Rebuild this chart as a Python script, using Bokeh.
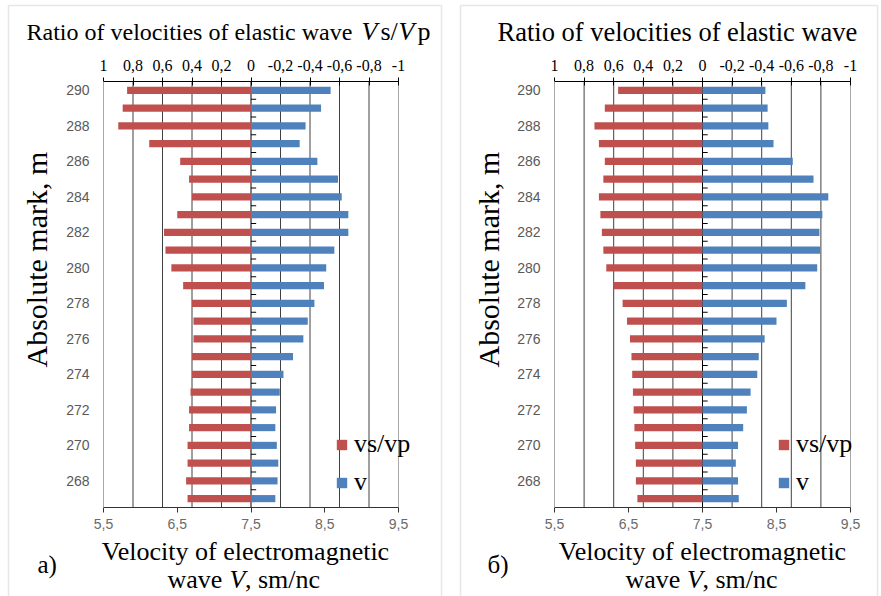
import math
from bokeh.plotting import figure
from bokeh.models import (Range1d, LinearAxis, FixedTicker, CustomJSTickFormatter,
                          Label, Legend, LegendItem, BoxAnnotation)
from bokeh.layouts import row
from bokeh.embed import file_html
from bokeh.resources import INLINE

# ---------------- data ----------------
depth = list(range(290, 266, -1))          # absolute mark, m (290 ... 267)
depth_ticks = list(range(268, 291, 2))
ratio_ticks = [1, 0.8, 0.6, 0.4, 0.2, 0, -0.2, -0.4, -0.6, -0.8, -1]
vel_ticks = [5.5, 6.5, 7.5, 8.5, 9.5]
series_names = ["vs/vp", "v"]

# panel a)
ratio_a = [0.84, 0.87, 0.90, 0.69, 0.48, 0.42, 0.40, 0.50, 0.59, 0.58, 0.54, 0.46,
           0.40, 0.39, 0.39, 0.40, 0.40, 0.41, 0.42, 0.42, 0.43, 0.43, 0.44, 0.43]
vel_a = [8.58, 8.45, 8.24, 8.16, 8.40, 8.68, 8.73, 8.82, 8.82, 8.63, 8.52, 8.49,
         8.36, 8.27, 8.21, 8.07, 7.94, 7.89, 7.84, 7.83, 7.85, 7.87, 7.86, 7.83]
# panel б)
ratio_b = [0.57, 0.66, 0.73, 0.70, 0.66, 0.67, 0.70, 0.69, 0.68, 0.67, 0.65, 0.60,
           0.54, 0.51, 0.49, 0.48, 0.475, 0.47, 0.465, 0.46, 0.455, 0.45, 0.45, 0.44]
vel_b = [8.35, 8.38, 8.39, 8.46, 8.72, 9.00, 9.20, 9.12, 9.08, 9.09, 9.05, 8.89,
         8.64, 8.50, 8.34, 8.26, 8.24, 8.15, 8.10, 8.05, 7.98, 7.95, 7.98, 7.99]

RED = "#C0504D"
BLUE = "#4F81BD"
SERIF = "Liberation Serif"
SANS = "Liberation Sans"
H = 596
PLOT_TOP, PLOT_BOTTOM = 81, 507      # pixel rows of the plotting band
FIX = 9                              # renderer draws 'alphabetic' text ~9px lower than asked

fmt_code = "return (Math.round(tick*10)/10).toString().replace('.', ',');"


def lab(p, text, x, y, size, style="normal", align="left", angle=0.0):
    if angle:
        x = x - FIX
    else:
        y = y - FIX
    p.add_layout(Label(x=x, y=y, x_units="canvas", y_units="canvas", text=text,
                       text_font=SERIF, text_font_size=size, text_font_style=style,
                       text_align=align, text_baseline="alphabetic", angle=angle,
                       text_color="black"))


def stretch(v0, v1, p0, p1, total):
    """range whose values v0/v1 fall on pixels p0/p1 of a canvas 'total' pixels wide"""
    k = (v1 - v0) / (p1 - p0)
    return Range1d(start=v0 - p0 * k, end=v0 + (total - p0) * k)


def make_panel(width, fx0, fx1, ratio, vel, box_lr, legend_xy):
    lo, hi = min(depth) - 0.5, max(depth) + 0.5
    xr = stretch(ratio_ticks[0], ratio_ticks[-1], fx0, fx1, width)
    vr = stretch(vel_ticks[0], vel_ticks[-1], fx0, fx1, width)
    yr = stretch(lo, hi, H - PLOT_BOTTOM, H - PLOT_TOP, H)
    p = figure(width=width, height=H, output_backend="svg", toolbar_location=None,
               x_range=xr, y_range=yr, title=None,
               x_axis_location=None, y_axis_location=None, min_border=0)
    p.extra_x_ranges = {"vel": vr}
    p.outline_line_color = None
    p.grid.visible = False
    p.background_fill_color = "white"
    p.border_fill_color = "white"

    # vertical grid lines of the band (edges grey, centre black, others dark)
    gcol = ["#a8a8a8" if abs(t) == 1 else ("black" if t == 0 else "#404040") for t in ratio_ticks]
    p.segment(x0=ratio_ticks, x1=ratio_ticks, y0=[lo] * len(ratio_ticks), y1=[hi] * len(ratio_ticks),
              line_color=gcol, line_width=1)

    # top axis: ratio
    top = LinearAxis(ticker=FixedTicker(ticks=ratio_ticks), formatter=CustomJSTickFormatter(code=fmt_code),
                     fixed_location=hi, bounds=(min(ratio_ticks), max(ratio_ticks)))
    top.major_label_text_font = SERIF
    top.major_label_text_font_size = "16px"
    top.major_label_text_color = "black"
    top.major_tick_in = 4
    top.major_tick_out = 4
    top.major_tick_line_color = "black"
    top.minor_tick_line_color = None
    top.axis_line_color = "black"
    top.major_label_standoff = 7
    p.add_layout(top, "above")

    # bottom axis: velocity
    bot = LinearAxis(x_range_name="vel", ticker=FixedTicker(ticks=vel_ticks),
                     formatter=CustomJSTickFormatter(code=fmt_code),
                     fixed_location=lo, bounds=(vel_ticks[0], vel_ticks[-1]))
    bot.major_label_text_font = SANS
    bot.major_label_text_font_size = "14px"
    bot.major_label_text_color = "#6a6a6a"
    bot.major_tick_in = 0
    bot.major_tick_out = 5
    bot.major_tick_line_color = "#333333"
    bot.minor_tick_line_color = None
    bot.axis_line_color = "#333333"
    bot.major_label_standoff = 6
    p.add_layout(bot, "below")

    # left axis: depth
    left = LinearAxis(ticker=FixedTicker(ticks=depth_ticks), fixed_location=ratio_ticks[0],
                      bounds=(lo, hi))
    left.major_label_text_font = SANS
    left.major_label_text_font_size = "14px"
    left.major_label_text_color = "#595959"
    left.major_tick_in = 0
    left.major_tick_out = 0
    left.minor_tick_line_color = None
    left.axis_line_color = "#a8a8a8"
    left.major_label_standoff = 14
    p.add_layout(left, "left")

    # bars
    r_red = p.hbar(y=depth, left=0, right=ratio, height=0.4, fill_color=RED, line_color=None)
    r_blue = p.hbar(y=depth, left=7.5, right=vel, height=0.4, fill_color=BLUE, line_color=None,
                    x_range_name="vel")

    # small category ticks on the central axis
    bounds = [d - 0.5 for d in depth]
    p.segment(x0=[0] * len(bounds), x1=[-0.035] * len(bounds), y0=bounds, y1=bounds,
              line_color="black", line_width=1)

    leg = Legend(items=[LegendItem(label=series_names[0], renderers=[r_red]),
                        LegendItem(label=series_names[1], renderers=[r_blue])],
                 location=legend_xy, orientation="vertical",
                 label_text_font=SERIF, label_text_font_size="26px", label_text_color="black",
                 glyph_width=13, glyph_height=13, label_standoff=6, spacing=8,
                 padding=0, margin=0, border_line_color=None, background_fill_alpha=0)
    p.add_layout(leg)

    p.add_layout(BoxAnnotation(left=box_lr[0], right=box_lr[1], top=5, bottom=700,
                               left_units="canvas", right_units="canvas",
                               top_units="canvas", bottom_units="canvas",
                               fill_color=None, line_color="#b0b0b0", line_width=1.5))
    return p


pa = make_panel(449, 103, 398, ratio_a, vel_a, (8, 441), (335, 99))
lab(pa, "Ratio of velocities of elastic wave", 26, 40, "24px")
lab(pa, "V", 361, 40, "26px", "italic")
lab(pa, "s/", 380, 40, "26px")
lab(pa, "V", 398, 40, "26px", "italic")
lab(pa, "p", 417, 40, "26px")
lab(pa, "Velocity of electromagnetic", 245, 560, "26px", align="center")
lab(pa, "wave", 167, 588, "26px")
lab(pa, "V", 229, 588, "26px", "italic")
lab(pa, ", sm/nc", 244.5, 588, "26px")
lab(pa, "a)", 37, 573, "25px")
lab(pa, "Absolute mark, m", 45, 367, "30px", angle=math.pi / 2)

pb = make_panel(432, 105, 401, ratio_b, vel_b, (11, 428), (328, 99))
lab(pb, "Ratio of velocities of elastic wave", 48, 40, "26.5px")
lab(pb, "Velocity of electromagnetic", 253, 560, "26px", align="center")
lab(pb, "wave", 176, 588, "26px")
lab(pb, "V", 237.5, 588, "26px", "italic")
lab(pb, ", sm/nc", 253, 588, "26px")
lab(pb, "б)", 38, 573, "25px")
lab(pb, "Absolute mark, m", 48, 367, "30px", angle=math.pi / 2)

layout = row(pa, pb)
open("out.html", "w").write(file_html(layout, INLINE))
